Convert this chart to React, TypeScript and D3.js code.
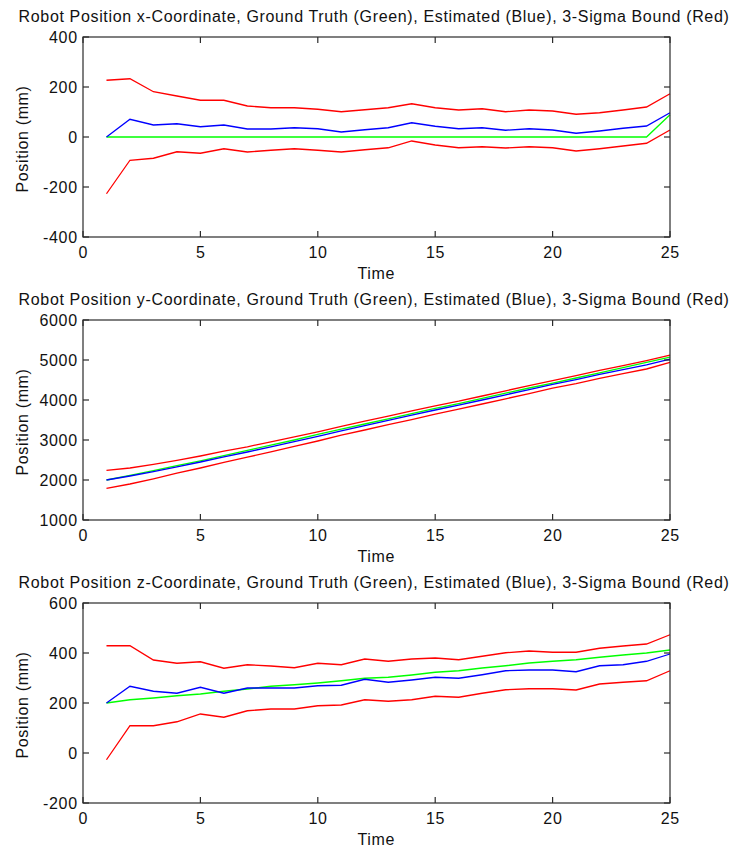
import React from "react";
import * as d3 from "d3";

const timeSteps = [1,2,3,4,5,6,7,8,9,10,11,12,13,14,15,16,17,18,19,20,21,22,23,24,25];
const timeTicks = [0,5,10,15,20,25];

// x-coordinate
const xTruth = [0,0,0,0,0,0,0,0,0,0,0,0,0,0,0,0,0,0,0,0,0,0,0,0,89];
const xEst = [0,71,48,53,41,48,32,32,37,33,20,29,37,57,43,33,37,27,33,28,15,24,35,44,97];
const xUpper = [227,233,181,164,147,147,124,117,117,111,101,109,117,133,117,108,113,101,108,104,91,97,108,120,173];
const xLower = [-227,-93,-85,-59,-65,-47,-60,-53,-47,-53,-60,-51,-43,-16,-32,-43,-39,-44,-39,-43,-56,-47,-36,-25,28];
const xTicks = [-400,-200,0,200,400];

// y-coordinate
const yTruth = [2000,2115,2235,2360,2480,2610,2740,2870,3000,3140,3270,3400,3530,3660,3790,3910,4040,4170,4300,4420,4550,4680,4810,4940,5070];
const yEst = [2000,2100,2210,2330,2450,2580,2700,2830,2960,3090,3230,3360,3490,3620,3750,3870,4000,4130,4260,4390,4510,4640,4760,4880,5020];
const yUpper = [2240,2300,2390,2490,2600,2720,2830,2955,3080,3205,3340,3470,3595,3730,3855,3970,4100,4230,4360,4485,4610,4740,4860,4985,5120];
const yLower = [1790,1900,2030,2170,2300,2440,2570,2705,2840,2975,3120,3250,3385,3510,3645,3770,3900,4030,4160,4295,4410,4540,4660,4775,4940];
const yTicks = [1000,2000,3000,4000,5000,6000];

// z-coordinate
const zTruth = [200,213,220,229,236,247,256,267,273,280,289,299,303,312,323,329,340,349,360,367,373,383,392,400,412];
const zEst = [200,267,247,239,263,239,260,260,260,269,271,295,283,292,303,299,313,329,332,332,325,349,353,367,396];
const zUpper = [429,429,372,359,365,339,353,348,341,359,353,376,367,376,380,373,387,401,408,403,403,419,428,436,473];
const zLower = [-27,109,109,125,156,143,169,176,176,189,192,213,207,213,227,223,239,253,257,257,252,276,283,289,329];
const zTicks = [-200,0,200,400,600];

const titles = [
  "Robot Position x-Coordinate, Ground Truth (Green), Estimated (Blue), 3-Sigma Bound (Red)",
  "Robot Position y-Coordinate, Ground Truth (Green), Estimated (Blue), 3-Sigma Bound (Red)",
  "Robot Position z-Coordinate, Ground Truth (Green), Estimated (Blue), 3-Sigma Bound (Red)",
];

const panels = [
  { truth: xTruth, est: xEst, upper: xUpper, lower: xLower, ticks: xTicks },
  { truth: yTruth, est: yEst, upper: yUpper, lower: yLower, ticks: yTicks },
  { truth: zTruth, est: zEst, upper: zUpper, lower: zLower, ticks: zTicks },
];

const LEFT = 83;
const RIGHT = 670;
const TOPS = [37, 320, 603];
const H = 200;
const FONT = "'Liberation Sans', Arial, sans-serif";
const FS = 16;
const TEXT_STYLE: React.CSSProperties = { letterSpacing: "0.65px" };
const AXIS = "#2b2b2b";
const TL = 6;

function Panel({ idx }: { idx: number }) {
  const p = panels[idx];
  const top = TOPS[idx];
  const bottom = top + H;
  const x = d3.scaleLinear().domain([0, 25]).range([LEFT, RIGHT]);
  const y = d3.scaleLinear().domain([p.ticks[0], p.ticks[p.ticks.length - 1]]).range([bottom, top]);
  const line = d3.line<number>().x((_, i) => x(timeSteps[i])).y((v) => y(v));
  return (
    <g>
      <text x={374} y={top - 15} textAnchor="middle" fontSize={FS} fontFamily={FONT} fill="#111" style={TEXT_STYLE}>
        {titles[idx]}
      </text>
      <path d={line(p.truth) || ""} fill="none" stroke="#00ff00" strokeWidth={1.3} />
      <path d={line(p.est) || ""} fill="none" stroke="#0000ff" strokeWidth={1.3} />
      <path d={line(p.upper) || ""} fill="none" stroke="#ff0000" strokeWidth={1.3} />
      <path d={line(p.lower) || ""} fill="none" stroke="#ff0000" strokeWidth={1.3} />
      <rect x={LEFT} y={top} width={RIGHT - LEFT} height={H} fill="none" stroke={AXIS} strokeWidth={1.2} />
      {timeTicks.map((t) => (
        <g key={"xt" + t}>
          <line x1={x(t)} x2={x(t)} y1={bottom} y2={bottom - TL} stroke={AXIS} strokeWidth={1.2} />
          <line x1={x(t)} x2={x(t)} y1={top} y2={top + TL} stroke={AXIS} strokeWidth={1.2} />
          <text x={x(t) + 0.3} y={bottom + 20.5} textAnchor="middle" fontSize={FS} fontFamily={FONT} fill="#111" style={TEXT_STYLE}>
            {t}
          </text>
        </g>
      ))}
      {p.ticks.map((v) => (
        <g key={"yt" + v}>
          <line x1={LEFT} x2={LEFT + TL} y1={y(v)} y2={y(v)} stroke={AXIS} strokeWidth={1.2} />
          <line x1={RIGHT} x2={RIGHT - TL} y1={y(v)} y2={y(v)} stroke={AXIS} strokeWidth={1.2} />
          <text x={77.7} y={y(v) + 5.7} textAnchor="end" fontSize={FS} fontFamily={FONT} fill="#111" style={TEXT_STYLE}>
            {v}
          </text>
        </g>
      ))}
      <text x={376.3} y={bottom + 42} textAnchor="middle" fontSize={FS} fontFamily={FONT} fill="#111" style={TEXT_STYLE}>
        Time
      </text>
      <text
        transform={`translate(28, ${top + H / 2 + 2}) rotate(-90)`}
        textAnchor="middle"
        fontSize={FS}
        fontFamily={FONT}
        fill="#111"
        style={TEXT_STYLE}
      >
        Position (mm)
      </text>
    </g>
  );
}

export default function App() {
  return (
    <svg
      width={735}
      height={850}
      style={{ position: "absolute", left: 0, top: 0, background: "#fff" }}
    >
      <rect x={0} y={0} width={735} height={850} fill="#fff" />
      <Panel idx={0} />
      <Panel idx={1} />
      <Panel idx={2} />
    </svg>
  );
}
